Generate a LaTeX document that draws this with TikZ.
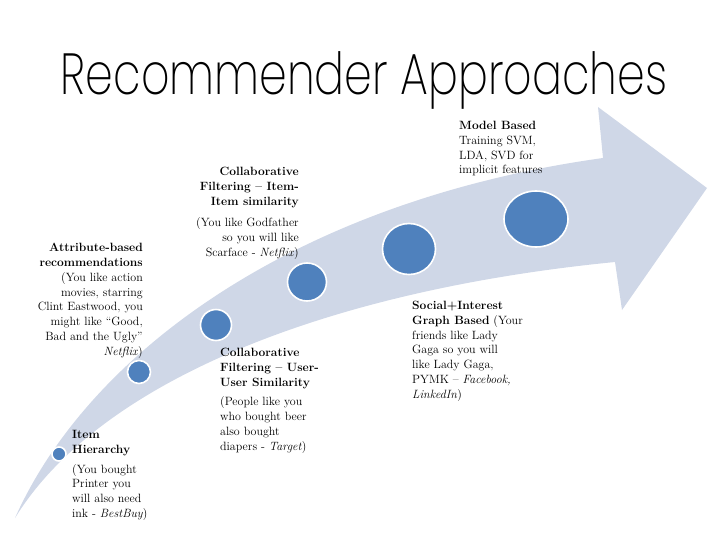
\documentclass[tikz,border=0pt]{standalone}
\usepackage{fontspec}
\newfontfamily\titlefont{Poppins ExtraLight}
\usetikzlibrary{
  shapes.geometric,
}
\definecolor{bandblue}{HTML}{CFD7E7}
\definecolor{dotblue}{HTML}{4F81BD}
\tikzset{
  stage dot/.style = {
    ellipse,
    draw=white,
    line width=1.6pt,
    fill=dotblue,
    inner sep=0pt
  },
  stage text/.style = {
    inner sep=0pt,
    font=\fontsize{12}{14.8}\selectfont
  },
  left text/.style = {
    stage text,
    align=left,
    anchor=north west
  },
  right text/.style = {
    stage text,
    align=right,
    anchor=north east
  },
}

\begin{document}
\begin{tikzpicture}[x=1pt, y=-1pt]
  \useasboundingbox (0,0) rectangle (728,546);
  %% title
  \node[anchor=base, inner sep=0pt] (title) at (364,94)
    {\scalebox{0.765}[1]{\titlefont\fontsize{58}{58}\selectfont Recommender Approaches}};
  %% curved arrow
  \fill[bandblue] (15,518) .. controls (90,350) and (300,200) .. (603,158)
    -- (598,107) -- (707,188) -- (622,310) -- (615,262)
    .. controls (330,290) and (100,380) .. cycle;
  %% dots
  \node[stage dot, minimum width=14pt, minimum height=14pt] (d1) at (59,454) {};
  \node[stage dot, minimum width=23pt, minimum height=23pt] (d2) at (139,372) {};
  \node[stage dot, minimum width=31pt, minimum height=31pt] (d3) at (216,325) {};
  \node[stage dot, minimum width=39pt, minimum height=38pt] (d4) at (307,282) {};
  \node[stage dot, minimum width=53pt, minimum height=51pt] (d5) at (409,249) {};
  \node[stage dot, minimum width=64pt, minimum height=56pt] (d6) at (536,219) {};
  %% labels
  \node[left text] (t1) at (72,430) {\textbf{Item}\\ \textbf{Hierarchy}\\[5pt] (You bought\\ Printer you\\ will also need\\ ink - \textit{BestBuy})};
  \node[right text] (t2) at (143,243) {\textbf{Attribute-based}\\ \textbf{recommendations}\\ (You like action\\ movies, starring\\ Clint Eastwood, you\\ might like ``Good,\\ Bad and the Ugly''\\ \textit{Netflix})};
  \node[right text] (t3) at (299,167) {\textbf{Collaborative}\\ \textbf{Filtering -- Item-}\\ \textbf{Item similarity}\\[7pt] (You like Godfather\\ so you will like\\ Scarface - \textit{Netflix})};
  \node[left text] (t4) at (220,348) {\textbf{Collaborative}\\ \textbf{Filtering -- User-}\\ \textbf{User Similarity}\\[5pt] (People like you\\ who bought beer\\ also bought\\ diapers - \textit{Target})};
  \node[left text] (t5) at (412,301) {\textbf{Social+Interest}\\ \textbf{Graph Based} (Your\\ friends like Lady\\ Gaga so you will\\ like Lady Gaga,\\ PYMK -- \textit{Facebook,}\\ \textit{LinkedIn})};
  \node[left text] (t6) at (459,121) {\textbf{Model Based}\\ Training SVM,\\ LDA, SVD for\\ implicit features};
\end{tikzpicture}
\end{document}
